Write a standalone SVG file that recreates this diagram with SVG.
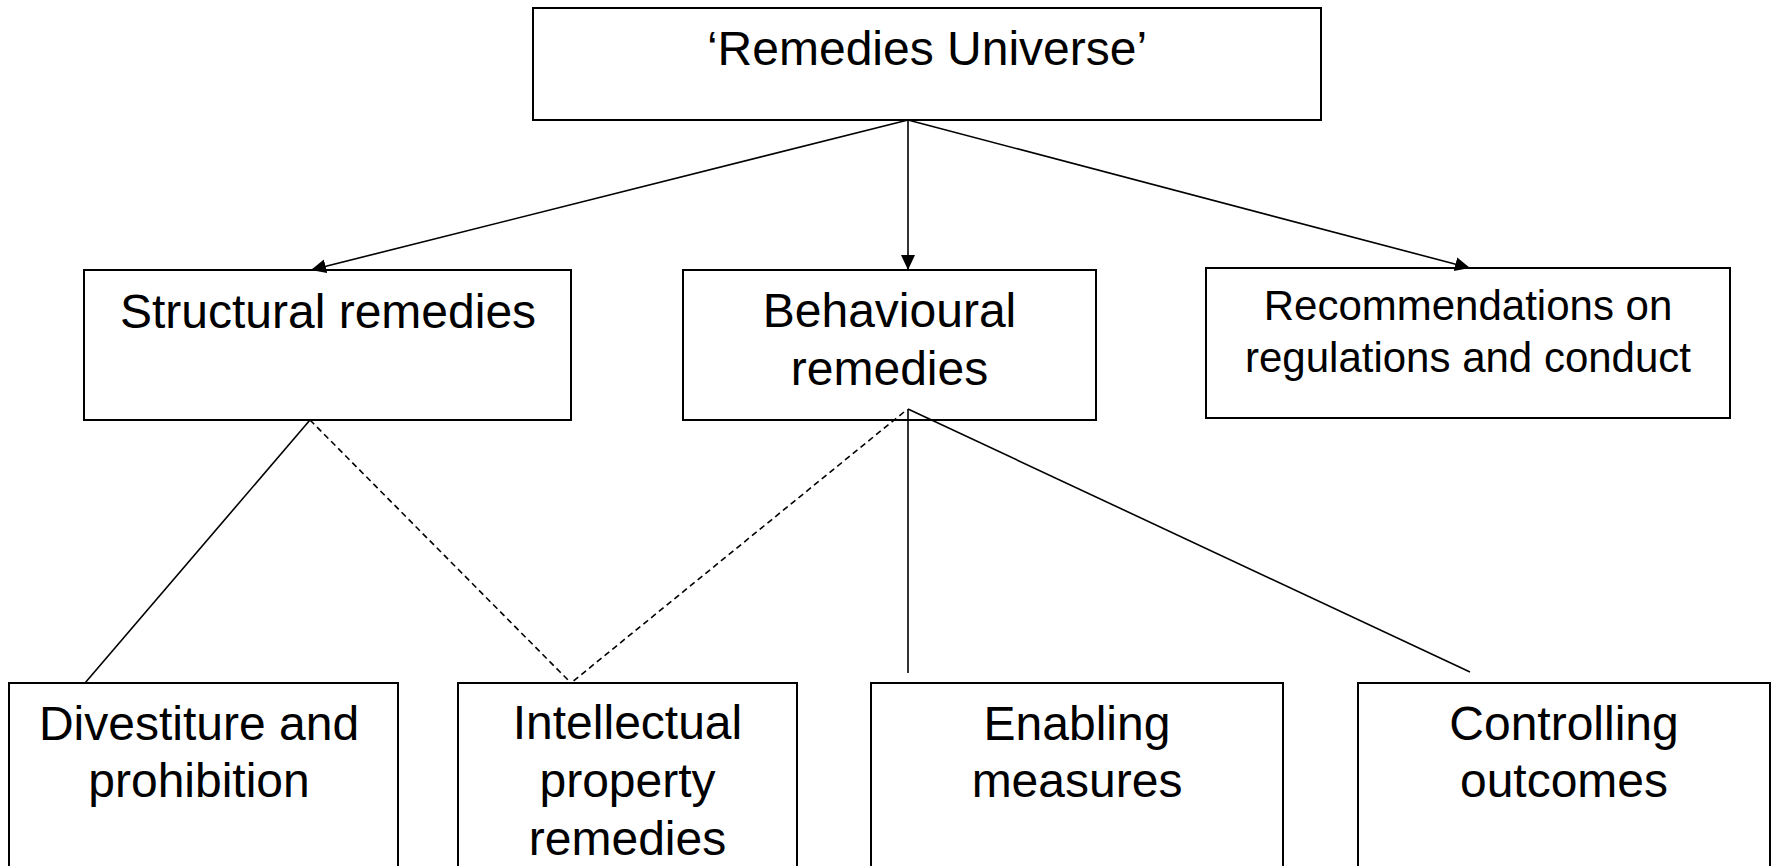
<svg xmlns="http://www.w3.org/2000/svg" width="1773" height="866" viewBox="0 0 1773 866">
<style>
  .box { fill: #ffffff; stroke: #000000; stroke-width: 2; }
  .t { font-family: "Liberation Sans", Arial, sans-serif; font-size: 48px; fill: #000000; text-anchor: middle; }
  .t2 { font-family: "Liberation Sans", Arial, sans-serif; font-size: 42px; fill: #000000; text-anchor: middle; }
  .ln { stroke: #000000; stroke-width: 1.6; fill: none; }
  .dash { stroke-dasharray: 6 4; }
</style>
<defs>
  <marker id="arrow" markerUnits="userSpaceOnUse" markerWidth="16" markerHeight="16" refX="15" refY="7" orient="auto">
    <path d="M0,0 L15,7 L0,14 z" fill="#000000"/>
  </marker>
</defs>
<rect width="1773" height="866" fill="#ffffff"/>
<g id="node-universe">
  <rect class="box" x="533" y="8" width="788" height="112"/>
  <text class="t" x="927" y="65">‘Remedies Universe’</text>
</g>
<g id="node-structural">
  <rect class="box" x="84" y="270" width="487" height="150"/>
  <text class="t" x="328" y="328">Structural remedies</text>
</g>
<g id="node-behavioural">
  <rect class="box" x="683" y="270" width="413" height="150"/>
  <text class="t" x="889.5" y="327">Behavioural</text>
  <text class="t" x="889.5" y="385">remedies</text>
</g>
<g id="node-recommendations">
  <rect class="box" x="1206" y="268" width="524" height="150"/>
  <text class="t2" x="1468" y="320">Recommendations on</text>
  <text class="t2" x="1468" y="372">regulations and conduct</text>
</g>
<g id="node-divestiture">
  <rect class="box" x="9" y="683" width="389" height="190"/>
  <text class="t" x="199" y="740">Divestiture and</text>
  <text class="t" x="199" y="797">prohibition</text>
</g>
<g id="node-ip">
  <rect class="box" x="458" y="683" width="339" height="190"/>
  <text class="t" x="627.5" y="739">Intellectual</text>
  <text class="t" x="627.5" y="797">property</text>
  <text class="t" x="627.5" y="855">remedies</text>
</g>
<g id="node-enabling">
  <rect class="box" x="871" y="683" width="412" height="190"/>
  <text class="t" x="1077" y="740">Enabling</text>
  <text class="t" x="1077" y="797">measures</text>
</g>
<g id="node-controlling">
  <rect class="box" x="1358" y="683" width="412" height="190"/>
  <text class="t" x="1564" y="740">Controlling</text>
  <text class="t" x="1564" y="797">outcomes</text>
</g>
<g id="connectors">
  <line class="ln" x1="908" y1="120" x2="311" y2="270" marker-end="url(#arrow)"/>
  <line class="ln" x1="908" y1="120" x2="908" y2="270" marker-end="url(#arrow)"/>
  <line class="ln" x1="908" y1="120" x2="1470" y2="268" marker-end="url(#arrow)"/>
  <line class="ln" x1="310" y1="420" x2="85" y2="683"/>
  <line class="ln dash" x1="310" y1="420" x2="571" y2="683"/>
  <line class="ln dash" x1="904" y1="412" x2="571" y2="683"/>
  <line class="ln" x1="908" y1="409" x2="908" y2="673"/>
  <line class="ln" x1="908" y1="409" x2="1470" y2="672"/>
</g>
</svg>
